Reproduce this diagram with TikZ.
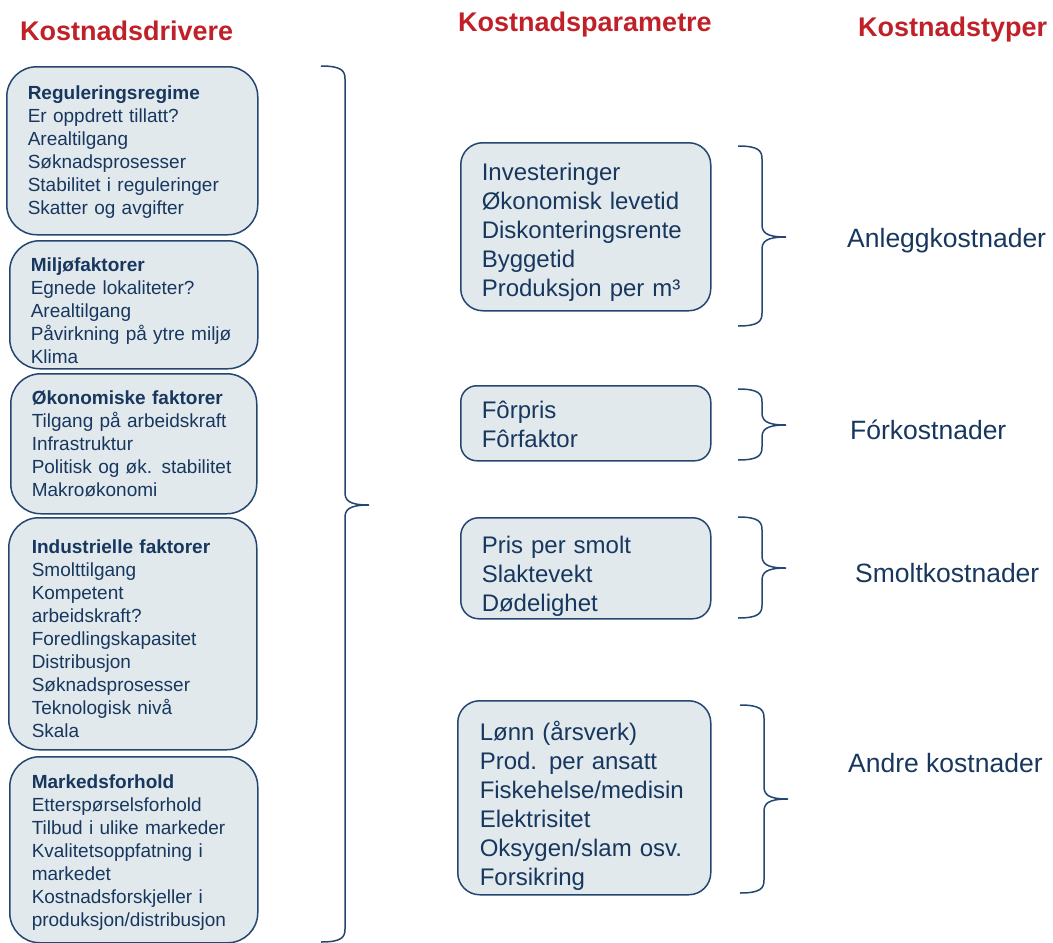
\documentclass[tikz,border=0pt]{standalone}
\usepackage{fontspec}
\setmainfont{Liberation Sans}
\usepackage{tikz}
\definecolor{kostblue}{RGB}{23,55,94}
\definecolor{kostline}{RGB}{36,70,112}
\definecolor{kostfill}{RGB}{226,233,237}
\definecolor{kostred}{RGB}{192,32,40}
\usetikzlibrary{positioning}
\tikzstyle{driver}=[draw=kostline,fill=kostfill,line width=1.5pt,rounded corners=30pt,anchor=north west,align=left,inner xsep=21pt,inner ysep=0pt,text width=206pt,text=kostblue,font=\fontsize{19}{23}\selectfont]
\tikzstyle{param}=[draw=kostline,fill=kostfill,line width=1.5pt,rounded corners=22pt,anchor=north west,align=left,inner xsep=21pt,inner ysep=0pt,text width=208pt,text=kostblue,font=\fontsize{24}{29}\selectfont]
\tikzstyle{heading}=[anchor=base west,inner sep=0pt,text=kostred,font=\fontsize{27}{32}\selectfont\bfseries]
\tikzstyle{costtype}=[anchor=base west,inner sep=0pt,text=kostblue,font=\fontsize{26.5}{32}\selectfont]
\tikzstyle{curly}=[draw=kostline,line width=1.5pt]
\newcommand{\kostbrace}[4]{%
  \draw[curly] (#1,#2) .. controls +(21,0) and +(0,-8) .. (#1+24,#2+13) -- (#1+24,#3-13)
    .. controls +(0,8) and +(-21,0) .. (#1+48,#3)
    .. controls +(-21,0) and +(0,-8) .. (#1+24,#3+13) -- (#1+24,#4-13)
    .. controls +(0,8) and +(21,0) .. (#1,#4);}

\begin{document}
\begin{tikzpicture}[x=1pt,y=-1pt]
\useasboundingbox (0,0) rectangle (1053,943);
\draw (20,40) node [heading] (hdriver) {Kostnadsdrivere};
\draw (458,31) node [heading] (hparam) {Kostnadsparametre};
\draw (858,36) node [heading] (htype) {Kostnadstyper};
\draw (6,66) node [driver, text width=209pt, text height=33pt, text depth=135pt] (regime) {\textbf{Reguleringsregime}\\Er oppdrett tillatt?\\Arealtilgang\\Søknadsprosesser\\Stabilitet i reguleringer\\Skatter og avgifter};
\draw (9,240) node [driver, text height=31pt, text depth=97pt] (miljo) {\textbf{Miljøfaktorer}\\Egnede lokaliteter?\\Arealtilgang\\Påvirkning på ytre miljø\\Klima};
\draw (10,373) node [driver, text width=204pt, text height=31pt, text depth=109pt] (okonomi) {\textbf{Økonomiske faktorer}\\Tilgang på arbeidskraft\\Infrastruktur\\Politisk og øk. stabilitet\\Makroøkonomi};
\draw (8,517) node [driver, inner xsep=23pt, text width=202pt, text height=36pt, text depth=196pt] (industri) {\textbf{Industrielle faktorer}\\Smolttilgang\\Kompetent\\arbeidskraft?\\Foredlingskapasitet\\Distribusjon\\Søknadsprosesser\\Teknologisk nivå\\Skala};
\draw (9,756) node [driver, inner xsep=22pt, text width=204pt, text height=32pt, text depth=154pt] (marked) {\textbf{Markedsforhold}\\Etterspørselsforhold\\Tilbud i ulike markeder\\Kvalitetsoppfatning i\\markedet\\Kostnadsforskjeller i\\produksjon/distribusjon};
\draw (460,142) node [param, text height=38pt, text depth=130pt] (invest) {Investeringer\\Økonomisk levetid\\Diskonteringsrente\\Byggetid\\Produksjon per m³};
\draw (460,385) node [param, rounded corners=16pt, text height=33pt, text depth=42pt] (forpar) {Fôrpris\\Fôrfaktor};
\draw (460,517) node [param, rounded corners=18pt, text height=36pt, text depth=65pt] (smoltpar) {Pris per smolt\\Slaktevekt\\Dødelighet};
\draw (457,700) node [param, inner xsep=22pt, text width=209pt, text height=40pt, text depth=154pt] (andrepar) {Lønn (årsverk)\\Prod. per ansatt\\Fiskehelse/medisin\\Elektrisitet\\Oksygen/slam osv.\\Forsikring};
\kostbrace{321}{66}{505}{942}
\kostbrace{738}{146}{237}{326}
\kostbrace{738}{389}{425}{460}
\kostbrace{738}{517}{568}{618}
\kostbrace{740}{705}{799}{893}
\draw (847,247) node [costtype] (anlegg) {Anleggkostnader};
\draw (850,439) node [costtype] (forkost) {Fórkostnader};
\draw (855,582) node [costtype] (smoltkost) {Smoltkostnader};
\draw (848,772) node [costtype] (andrekost) {Andre kostnader};
\end{tikzpicture}
\end{document}
